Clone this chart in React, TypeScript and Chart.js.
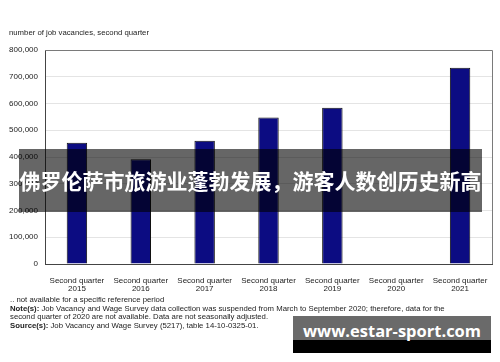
import React, { useEffect, useRef } from "react";
import { Chart, registerables } from "chart.js";

Chart.register(...registerables);

const categories: string[][] = [
  ["Second quarter", "2015"],
  ["Second quarter", "2016"],
  ["Second quarter", "2017"],
  ["Second quarter", "2018"],
  ["Second quarter", "2019"],
  ["Second quarter", "2020"],
  ["Second quarter", "2021"],
];
const vacancies: (number | null)[] = [453000, 392000, 461000, 548000, 584000, null, 734000];
const yMin = 0;
const yMax = 800000;
const yStep = 100000;

const axisTitle = "number of job vacancies, second quarter";
const footnotes: { bold?: string; text: string }[] = [
  { text: "..  not available for a specific reference period" },
  { bold: "Note(s):", text: " Job Vacancy and Wage Survey data collection was suspended from March to September 2020; therefore, data for the" },
  { text: "second quarter of 2020 are not available. Data are not seasonally adjusted." },
  { bold: "Source(s):", text: " Job Vacancy and Wage Survey (5217), table 14-10-0325-01." },
];
const bannerText = "佛罗伦萨市旅游业蓬勃发展，游客人数创历史新高";
const watermarkText = "www.estar-sport.com";

const FONT = "'Liberation Sans', Arial, sans-serif";

const framePlugin = {
  id: "frame",
  afterDraw(chart: any) {
    const { ctx, chartArea } = chart;
    ctx.save();
    ctx.strokeStyle = "#7a7a7a";
    ctx.lineWidth = 1;
    ctx.beginPath();
    ctx.moveTo(chartArea.left, chartArea.top + 0.5);
    ctx.lineTo(chartArea.right + 0.5, chartArea.top + 0.5);
    ctx.lineTo(chartArea.right + 0.5, chartArea.bottom);
    ctx.stroke();
    ctx.restore();
  },
};

export default function App() {
  const ref = useRef<HTMLCanvasElement>(null);

  useEffect(() => {
    if (!ref.current) return;
    const chart = new Chart(ref.current, {
      type: "bar",
      data: {
        labels: categories,
        datasets: [
          {
            data: vacancies,
            backgroundColor: "#0c0c82",
            borderColor: "#111111",
            borderWidth: 1,
            barPercentage: 0.32,
            categoryPercentage: 1,
          },
        ],
      },
      options: {
        animation: false,
        responsive: false,
        maintainAspectRatio: false,
        layout: { padding: { top: 50, right: 8, left: 0, bottom: 0 } },
        plugins: {
          legend: { display: false },
          tooltip: { enabled: false },
          title: { display: false },
        },
        scales: {
          x: {
            grid: { display: false },
            border: { color: "#444444", width: 1 },
            ticks: {
              color: "#222222",
              font: { family: FONT, size: 8, lineHeight: 1 },
              padding: 5,
              maxRotation: 0,
              autoSkip: false,
            },
            afterFit(scale: any) {
              scale.height = 98;
            },
          },
          y: {
            min: yMin,
            max: yMax,
            grid: { color: "#e4e4e4", drawTicks: false },
            border: { color: "#444444", width: 1 },
            ticks: {
              stepSize: yStep,
              color: "#222222",
              font: { family: FONT, size: 8 },
              padding: 7,
              callback: (v: any) => Number(v).toLocaleString("en-US"),
            },
            afterFit(scale: any) {
              scale.width = 45;
            },
          },
        },
      },
      plugins: [framePlugin],
    });
    return () => chart.destroy();
  }, []);

  return (
    <div
      style={{
        position: "fixed",
        left: 0,
        top: 0,
        width: 500,
        height: 362,
        background: "#ffffff",
        overflow: "hidden",
      }}
    >
      <canvas ref={ref} width={500} height={362} style={{ position: "absolute", left: 0, top: 0, width: 500, height: 362 }} />
      <div
        style={{
          position: "absolute",
          left: 9,
          top: 28,
          fontFamily: FONT,
          fontSize: 7.75,
          lineHeight: "10px",
          color: "#222",
          whiteSpace: "nowrap",
        }}
      >
        {axisTitle}
      </div>
      <div
        style={{
          position: "absolute",
          left: 10,
          top: 296,
          fontFamily: FONT,
          fontSize: 7.75,
          lineHeight: "8.5px",
          color: "#222",
          whiteSpace: "nowrap",
        }}
      >
        {footnotes.map((f, i) => (
          <div key={i}>
            {f.bold ? <b>{f.bold}</b> : null}
            {f.text}
          </div>
        ))}
      </div>
      <div
        style={{
          position: "absolute",
          left: 19,
          top: 149,
          width: 463,
          height: 63,
          background: "rgba(0,0,0,0.6)",
          color: "#ffffff",
          fontFamily: "'Noto Sans CJK SC', sans-serif",
          fontWeight: 700,
          fontSize: 21,
          lineHeight: "63px",
          textAlign: "center",
          whiteSpace: "nowrap",
          overflow: "visible",
        }}
      >
        {bannerText}
      </div>
      <div
        style={{
          position: "absolute",
          left: 293,
          top: 316,
          width: 198,
          height: 37,
          background: "linear-gradient(#6a6a6a 0, #6a6a6a 24px, #000000 24px, #000000 100%)",
          color: "#ffffff",
          fontFamily: "'Open Sans', sans-serif",
          fontWeight: 700,
          fontSize: 16.5,
          lineHeight: "30px",
          textAlign: "center",
          whiteSpace: "nowrap",
        }}
      >
        {watermarkText}
      </div>
    </div>
  );
}
